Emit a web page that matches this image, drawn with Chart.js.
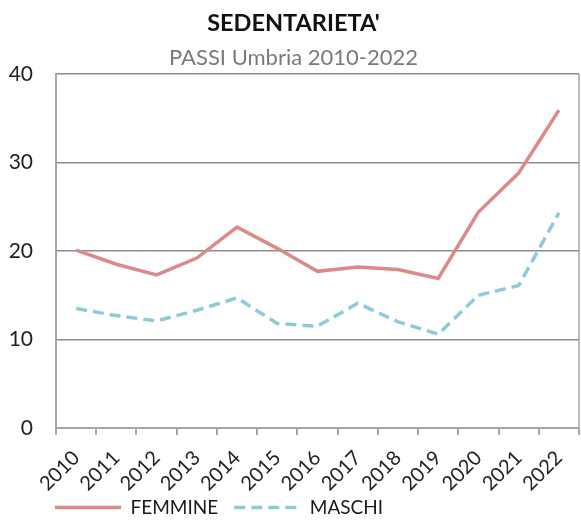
<!DOCTYPE html>
<html>
<head>
<meta charset="utf-8">
<script src="https://cdn.jsdelivr.net/npm/chart.js@4/dist/chart.umd.min.js"></script>
<style>
  html, body { margin: 0; padding: 0; background: #ffffff; }
  #wrap { width: 581px; height: 524px; }
</style>
</head>
<body>
<div id="wrap"><canvas id="c" width="581" height="524"></canvas></div>
<script>
// Anni dell'indagine PASSI
const years = ['2010', '2011', '2012', '2013', '2014', '2015', '2016',
               '2017', '2018', '2019', '2020', '2021', '2022'];

// Prevalenza di sedentari (%) per genere
const femmine = [20.1, 18.5, 17.3, 19.2, 22.7, 20.3, 17.7, 18.2, 17.9, 16.9, 24.4, 28.8, 35.9];
const maschi  = [13.5, 12.7, 12.1, 13.3, 14.7, 11.8, 11.5, 14.1, 12.0, 10.6, 15.0, 16.1, 24.3];

// Asse Y
const yTicks = [0, 10, 20, 30, 40];

const FONT = 'Lato, "Open Sans", sans-serif';

// Cornice grigia sul lato destro dell'area del grafico
const frame = {
  id: 'frame',
  beforeDatasetsDraw(chart) {
    const { ctx, chartArea: a } = chart;
    ctx.save();
    ctx.strokeStyle = '#a6a6a6';
    ctx.lineWidth = 1.5;
    ctx.beginPath();
    ctx.moveTo(a.right, a.top);
    ctx.lineTo(a.right, a.bottom);
    ctx.stroke();
    ctx.restore();
  }
};

// Sposta la legenda sotto le etichette ruotate, allineata al grafico
const legendShift = {
  id: 'legendShift',
  afterLayout(chart) {
    const lg = chart.legend;
    if (!lg) return;
    lg.left += 31; lg.right += 31;
    lg.top += 3; lg.bottom += 3;
  }
};

new Chart(document.getElementById('c'), {
  type: 'line',
  data: {
    labels: years,
    datasets: [
      {
        label: 'FEMMINE',
        data: femmine,
        borderColor: '#d98b8a',
        backgroundColor: '#d98b8a',
        borderWidth: 3.5,
        pointRadius: 0,
        tension: 0
      },
      {
        label: 'MASCHI',
        data: maschi,
        borderColor: '#8ecbd9',
        backgroundColor: '#8ecbd9',
        borderWidth: 3.5,
        borderDash: [11, 6],
        pointRadius: 0,
        tension: 0
      }
    ]
  },
  options: {
    responsive: false,
    animation: false,
    layout: { padding: { top: 9, left: 8, right: 2, bottom: 0 } },
    plugins: {
      title: {
        display: true,
        text: "SEDENTARIETA'",
        color: '#111111',
        font: { family: FONT, size: 23.5, weight: 'bold', lineHeight: 1.2 },
        padding: { top: 0, bottom: 7.6 }
      },
      subtitle: {
        display: true,
        text: 'PASSI Umbria 2010-2022',
        color: '#7a7a7a',
        font: { family: FONT, size: 22, lineHeight: 1.2 },
        padding: { top: 0, bottom: 2.8 }
      },
      legend: {
        position: 'bottom',
        align: 'start',
        labels: {
          color: '#1a1a1a',
          font: { family: FONT, size: 19 },
          usePointStyle: true,
          pointStyle: 'line',
          pointStyleWidth: 66,
          boxHeight: 4,
          padding: 16,
          generateLabels(chart) {
            const items = Chart.defaults.plugins.legend.labels.generateLabels(chart);
            items.forEach((it) => {
              const ds = chart.data.datasets[it.datasetIndex];
              it.lineDash = ds.borderDash || [];
              it.lineWidth = ds.borderWidth;
              it.strokeStyle = ds.borderColor;
              it.pointStyle = 'line';
            });
            return items;
          }
        }
      },
      tooltip: { enabled: false }
    },
    scales: {
      x: {
        type: 'category',
        offset: true,
        border: { display: true, color: '#a6a6a6', width: 2 },
        grid: {
          offset: true,
          drawOnChartArea: false,
          drawTicks: true,
          tickLength: 7,
          color: '#a6a6a6',
          lineWidth: 2
        },
        ticks: {
          color: '#222222',
          font: { family: FONT, size: 20 },
          minRotation: 45,
          maxRotation: 45,
          autoSkip: false,
          padding: 11
        },
        afterFit(scale) {
          scale.height = 51;
          scale.paddingLeft = 0;
          scale.paddingRight = 0;
          // le etichette ruotate scendono oltre il riquadro dell'asse
          scale._computeLabelArea = () => undefined;
        }
      },
      y: {
        min: 0,
        max: 40,
        afterBuildTicks(scale) { scale.ticks = yTicks.map(v => ({ value: v })); },
        border: { display: true, color: '#a6a6a6', width: 2 },
        grid: {
          drawTicks: false,
          color: (c) => c.tick && c.tick.value === 0 ? 'rgba(0,0,0,0)' : '#8c8c8c',
          lineWidth: 1.6
        },
        ticks: {
          color: '#222222',
          font: { family: FONT, size: 21 },
          padding: 23
        },
        afterFit(scale) { scale.width = 48; }
      }
    }
  },
  plugins: [frame, legendShift]
});
</script>
</body>
</html>
